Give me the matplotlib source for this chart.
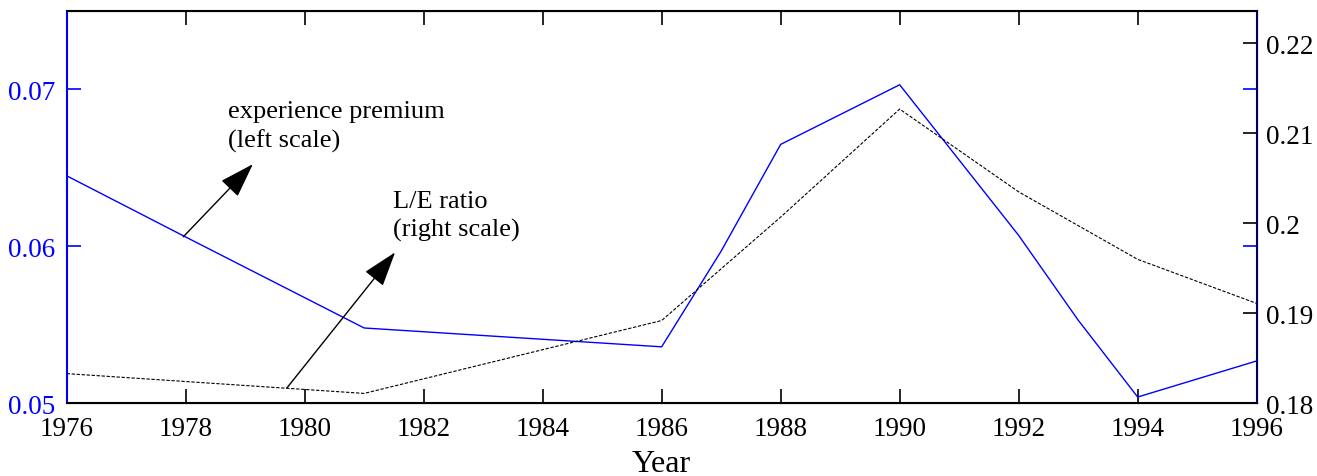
import matplotlib
matplotlib.use('Agg')
import matplotlib.pyplot as plt

plt.rcParams['font.family'] = ['Liberation Serif', 'DejaVu Serif']

# experience premium (left scale)
years_prem = [1976, 1978, 1981, 1986, 1987, 1988, 1990, 1992, 1993, 1994, 1996]
premium = [0.0645, 0.0606, 0.0548, 0.0536, 0.0597, 0.0665, 0.0703, 0.0607, 0.0553, 0.0504, 0.0527]

# L/E ratio (right scale)
years_le = [1976, 1981, 1986, 1988, 1990, 1992, 1994, 1996]
le_ratio = [0.1833, 0.1811, 0.1892, 0.2007, 0.2127, 0.2035, 0.1960, 0.1911]

xticks = list(range(1976, 1997, 2))
left_ticks = [0.05, 0.06, 0.07]
right_ticks = [0.18, 0.19, 0.2, 0.21, 0.22]
right_labels = ['0.18', '0.19', '0.2', '0.21', '0.22']

fig = plt.figure(figsize=(13.17, 4.77), dpi=100)
ax = fig.add_axes([0.0506, 0.1524, 0.9036, 0.8224])
ax2 = ax.twinx()

ax.plot(years_prem, premium, color='#0000ff', lw=1.0, zorder=3)
ax2.plot(years_le, le_ratio, color='black', lw=0.8, ls=(0, (3, 1.5)))

ax.set_xlim(1976, 1996)
ax.set_ylim(0.05, 0.075)
ax2.set_ylim(0.18, 0.2236)

ax.set_xticks(xticks)
ax.set_xticklabels([str(y) for y in xticks])
ax.set_yticks(left_ticks)
ax.set_yticklabels(['0.05', '0.06', '0.07'])
ax2.set_yticks(right_ticks)
ax2.set_yticklabels(right_labels)

ax.tick_params(axis='x', direction='in', top=True, length=10, width=1.2,
               labelsize=19.5, pad=9, colors='black')
ax.tick_params(axis='y', direction='in', left=True, right=True, length=10, width=1.2,
               labelsize=19.5, pad=8, colors='#0000ff')
ax2.tick_params(axis='y', direction='in', length=10, width=1.2, labelsize=19.5, pad=7,
                colors='black')

ax.spines['left'].set_color('#0000ff')
for s in ['top', 'bottom']:
    ax.spines[s].set_linewidth(1.5)
ax.spines['left'].set_linewidth(1.5)
ax2.spines['right'].set_color('#000066')
ax2.spines['right'].set_linewidth(1.5)
ax2.spines['left'].set_visible(False)

ax.set_xlabel('Year', fontsize=23, labelpad=6)

arrow = dict(arrowstyle='-|>,head_length=1.0,head_width=0.33', color='black',
             lw=1.0, mutation_scale=22, shrinkA=0, shrinkB=0)
ax.annotate('', xy=(1979.13, 0.06524), xytext=(1977.96, 0.06061), arrowprops=arrow)
ax.annotate('', xy=(1981.52, 0.05962), xytext=(1979.70, 0.05097), arrowprops=arrow)

ax.text(1978.71, 0.06822, 'experience premium', fontsize=19, ha='left', va='baseline')
ax.text(1978.71, 0.06637, '(left scale)', fontsize=19, ha='left', va='baseline')
ax.text(1981.48, 0.06248, 'L/E ratio', fontsize=19, ha='left', va='baseline')
ax.text(1981.48, 0.06068, '(right scale)', fontsize=19, ha='left', va='baseline')

fig.savefig('out.png', dpi=100)
